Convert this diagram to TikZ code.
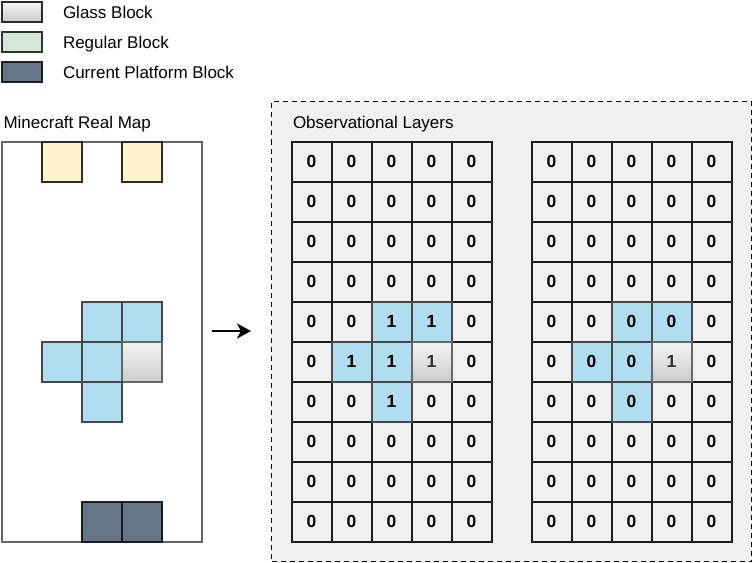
\documentclass[tikz,border=0pt]{standalone}
\usepackage{fontspec}
\setmainfont{Liberation Sans}
\usetikzlibrary{arrows.meta}
\definecolor{bluefill}{HTML}{B1DDF0}
\definecolor{yellowfill}{HTML}{FFF2CC}
\definecolor{greenfill}{HTML}{D5E8D4}
\definecolor{darkfill}{HTML}{647687}
\definecolor{panelfill}{HTML}{F0F0F0}
\definecolor{edgegray}{HTML}{666666}
\definecolor{edgedark}{HTML}{1C1C1C}
\definecolor{glasstop}{HTML}{F5F5F5}
\definecolor{glassbot}{HTML}{CCCCCC}
\tikzset{
  x=1pt,y=-1pt,
  every node/.style={font=\fontsize{17}{19}\selectfont,inner sep=0pt,outer sep=0pt},
  block/.style={draw=edgedark,line width=2pt,rectangle,minimum width=40pt,minimum height=40pt,anchor=north west},
  legendbox/.style={block,minimum height=20pt},
  label text/.style={anchor=base west,text=black},
  bluecell/.style={block,fill=bluefill,draw=edgegray!70!black},
  yellowcell/.style={block,fill=yellowfill,draw=edgedark!80!edgegray},
  darkcell/.style={block,fill=darkfill},
  glasscell/.style={block,top color=glasstop,bottom color=glassbot,draw=edgegray},
  gridcell/.style={block,font=\fontsize{17.5}{19}\selectfont\bfseries},
  gridblue/.style={bluecell,font=\fontsize{17.5}{19}\selectfont\bfseries},
  gridglass/.style={glasscell,font=\fontsize{17.5}{19}\selectfont\bfseries,text=black!80},
}
\begin{document}
\begin{tikzpicture}
\useasboundingbox (0,0) rectangle (752,562);
% Legend
\node[legendbox,top color=glasstop,bottom color=glassbot,draw=edgedark!80!edgegray] (lg) at (1.5,1.5) {};
\node[legendbox,fill=greenfill,draw=edgedark!70!edgegray] (lr) at (1.5,31.5) {};
\node[legendbox,fill=darkfill] (lp) at (1.5,61.5) {};
\node[label text] (tg) at (63,18.5) {Glass Block};
\node[label text] (tr) at (63,48.5) {Regular Block};
\node[label text] (tp) at (63,78.5) {Current Platform Block};
\node[label text] (tm) at (3.5,128.5) {Minecraft Real Map};
% Map
\node[draw=edgegray,line width=2pt,rectangle,minimum width=200pt,minimum height=400pt,anchor=north west] (map) at (1.5,141.5) {};
\node[yellowcell] (y1) at (41.5,141.5) {};
\node[yellowcell] (y2) at (121.5,141.5) {};
\node[bluecell] (m1) at (81.5,301.5) {};
\node[bluecell] (m2) at (121.5,301.5) {};
\node[bluecell] (m3) at (41.5,341.5) {};
\node[bluecell] (m4) at (81.5,341.5) {};
\node[glasscell] (m5) at (121.5,341.5) {};
\node[bluecell] (m6) at (81.5,381.5) {};
\node[darkcell] (p1) at (81.5,501.5) {};
\node[darkcell] (p2) at (121.5,501.5) {};
% Arrow
\coordinate (as) at (212,331);
\coordinate (ae) at (251,331);
\draw[line width=2.5pt,-{Stealth[length=14pt,width=15pt,inset=4pt]}] (as) -- (ae);
% Panel
\node[draw=black,fill=panelfill,line width=1.8pt,dash pattern=on 5pt off 4pt,rectangle,minimum width=480pt,minimum height=460pt,anchor=north west] (panel) at (271.5,101.5) {};
\node[label text] (tl) at (293,128.5) {Observational Layers};
% Grids
\foreach \gx/\g/\v in {291.5/a/1,531.5/b/0}{
  \foreach \r in {0,...,9}{
    \foreach \c in {0,...,4}{
      \pgfmathsetmacro{\cx}{\gx+40*\c}
      \pgfmathsetmacro{\cy}{141.5+40*\r}
      \node[gridcell] (\g-\r-\c) at (\cx,\cy) {0};
    }
  }
  \foreach \r/\c in {4/2,4/3,5/1,5/2,6/2}{
    \pgfmathsetmacro{\cx}{\gx+40*\c}
    \pgfmathsetmacro{\cy}{141.5+40*\r}
    \node[gridblue] (\g-b-\r-\c) at (\cx,\cy) {\v};
  }
  \pgfmathsetmacro{\cx}{\gx+120}
  \node[gridglass] (\g-glass) at (\cx,341.5) {1};
}
\end{tikzpicture}
\end{document}
